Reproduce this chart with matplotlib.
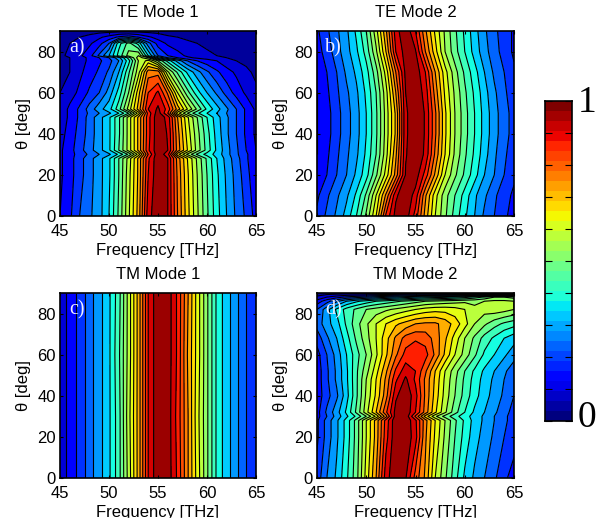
import numpy as np
import matplotlib
matplotlib.use("Agg")
import matplotlib.pyplot as plt
from matplotlib.patches import Rectangle

plt.rcParams['font.family'] = ['Liberation Sans', 'DejaVu Sans']

FREQ = list(range(45, 66))

TE1_THETA = [0, 20, 28, 30, 32, 40, 48, 50, 52, 60, 70, 75.5, 77, 78, 84, 87, 90]
TE1 = [
 [.10,.14,.20,.24,.28,.35,.46,.59,.72,.93,.99,.95,.80,.67,.56,.46,.37,.30,.24,.19,.13],
 [.09,.13,.18,.23,.28,.34,.45,.58,.71,.90,.99,.95,.79,.66,.55,.45,.36,.29,.23,.17,.11],
 [.09,.13,.18,.23,.28,.34,.45,.57,.71,.89,.99,.95,.78,.65,.54,.44,.35,.28,.22,.16,.10],
 [.09,.13,.17,.21,.25,.29,.36,.46,.62,.85,.99,.92,.67,.54,.44,.38,.33,.27,.21,.16,.10],
 [.09,.13,.18,.23,.28,.34,.45,.57,.71,.89,.99,.95,.78,.65,.53,.43,.34,.27,.21,.15,.10],
 [.08,.12,.17,.22,.28,.34,.44,.57,.71,.88,.99,.945,.77,.63,.52,.42,.33,.26,.20,.14,.09],
 [.07,.11,.16,.22,.28,.34,.44,.57,.71,.88,.99,.93,.75,.61,.50,.40,.32,.26,.20,.14,.09],
 [.07,.11,.16,.21,.25,.29,.35,.45,.62,.87,.98,.85,.62,.50,.41,.35,.30,.25,.20,.14,.09],
 [.07,.11,.16,.22,.28,.33,.43,.57,.72,.90,.96,.88,.73,.60,.49,.39,.32,.26,.20,.14,.09],
 [.05,.08,.11,.16,.20,.27,.37,.50,.68,.85,.91,.79,.60,.47,.37,.30,.24,.18,.13,.09,.06],
 [.03,.05,.09,.12,.16,.21,.30,.44,.58,.78,.78,.56,.44,.34,.27,.21,.16,.12,.09,.06,.04],
 [.03,.05,.08,.11,.14,.18,.25,.38,.55,.62,.50,.38,.28,.20,.15,.12,.10,.07,.05,.04,.03],
 [.04,.05,.08,.11,.15,.20,.28,.42,.58,.50,.30,.20,.15,.11,.09,.08,.07,.05,.04,.03,.03],
 [.04,.06,.09,.13,.21,.30,.42,.52,.55,.35,.20,.15,.12,.09,.07,.06,.05,.04,.03,.03,.02],
 [.03,.05,.07,.09,.13,.20,.38,.47,.38,.22,.13,.09,.07,.06,.05,.04,.03,.03,.02,.02,.02],
 [.02,.03,.05,.07,.09,.12,.16,.18,.15,.11,.08,.06,.05,.04,.04,.03,.03,.02,.02,.02,.02],
 [.02,.02,.02,.02,.03,.03,.03,.03,.03,.03,.03,.02,.02,.02,.02,.02,.02,.02,.02,.02,.02],
]

TE2_THETA = [0, 10, 20, 30, 40, 50, 60, 70, 80, 90]
TE2 = [
 [.16,.21,.26,.32,.40,.51,.65,.86,.97,.98,.88,.73,.60,.51,.43,.36,.30,.24,.20,.16,.13],
 [.14,.19,.24,.29,.36,.46,.60,.76,.94,.99,.93,.76,.62,.52,.45,.38,.31,.26,.21,.17,.14],
 [.11,.15,.20,.25,.31,.38,.49,.62,.77,.955,.98,.88,.74,.60,.51,.44,.37,.30,.25,.20,.16],
 [.10,.14,.19,.24,.29,.36,.45,.58,.74,.945,.99,.94,.79,.65,.54,.46,.39,.32,.26,.21,.17],
 [.10,.13,.18,.23,.28,.35,.44,.57,.71,.94,.99,.945,.81,.66,.55,.47,.40,.33,.27,.22,.18],
 [.10,.13,.18,.23,.28,.35,.44,.57,.71,.94,.99,.945,.81,.66,.55,.47,.40,.33,.27,.22,.18],
 [.10,.14,.19,.24,.29,.36,.45,.58,.75,.95,.99,.93,.78,.64,.54,.46,.39,.32,.26,.21,.17],
 [.11,.15,.20,.26,.31,.38,.48,.62,.80,.965,.985,.90,.75,.62,.52,.44,.37,.30,.24,.20,.16],
 [.13,.17,.23,.28,.34,.42,.54,.70,.90,.975,.955,.80,.67,.55,.47,.40,.33,.27,.22,.18,.14],
 [.14,.19,.24,.29,.36,.45,.58,.74,.93,.99,.90,.76,.64,.54,.46,.39,.32,.26,.21,.18,.14],
]

TM1_THETA = [0, 30, 60, 90]
TM1 = [
 [.07,.12,.17,.23,.28,.34,.43,.57,.72,.90,.99,.98,.89,.76,.63,.51,.39,.32,.26,.20,.15],
 [.07,.12,.17,.23,.28,.34,.43,.58,.72,.90,.99,.98,.88,.76,.62,.51,.39,.32,.26,.20,.15],
 [.07,.12,.17,.23,.28,.34,.44,.57,.72,.90,.99,.98,.89,.75,.63,.51,.39,.32,.26,.20,.15],
 [.07,.12,.17,.23,.28,.34,.43,.57,.72,.90,.99,.98,.89,.76,.63,.51,.39,.32,.26,.20,.15],
]

TM2_THETA = [0, 20, 28, 30, 32, 40, 48, 52, 60, 68, 75, 82, 86, 88, 90]
TM2 = [
 [.17,.25,.31,.39,.48,.62,.75,.93,.99,.955,.83,.74,.60,.51,.42,.34,.29,.25,.21,.16,.13],
 [.14,.22,.29,.37,.47,.60,.72,.88,.99,.99,.92,.76,.64,.54,.45,.38,.32,.28,.24,.20,.17],
 [.14,.22,.29,.37,.47,.60,.72,.87,.99,.99,.91,.77,.65,.55,.46,.39,.33,.29,.25,.21,.18],
 [.13,.20,.27,.34,.41,.50,.61,.78,.98,.99,.84,.68,.56,.48,.42,.37,.33,.29,.25,.21,.18],
 [.13,.21,.28,.36,.46,.58,.70,.84,.97,.99,.90,.78,.66,.56,.47,.40,.34,.30,.26,.22,.18],
 [.12,.18,.24,.33,.44,.56,.66,.78,.94,.99,.92,.79,.68,.58,.50,.43,.37,.32,.28,.24,.20],
 [.12,.19,.26,.34,.44,.55,.65,.76,.89,.96,.89,.79,.69,.59,.51,.44,.38,.33,.29,.25,.21],
 [.12,.19,.26,.34,.44,.53,.63,.74,.86,.93,.90,.81,.70,.60,.52,.45,.39,.34,.30,.26,.22],
 [.13,.20,.27,.35,.43,.50,.59,.69,.79,.87,.90,.87,.79,.69,.60,.53,.46,.39,.35,.31,.27],
 [.17,.24,.30,.38,.46,.53,.60,.68,.76,.82,.84,.83,.78,.71,.63,.55,.49,.43,.39,.35,.32],
 [.22,.28,.33,.41,.48,.54,.60,.65,.69,.72,.75,.76,.76,.73,.68,.62,.55,.51,.47,.44,.42],
 [.20,.28,.36,.42,.46,.50,.52,.54,.56,.58,.60,.62,.63,.63,.62,.60,.56,.57,.58,.57,.55],
 [.12,.18,.24,.30,.34,.37,.40,.42,.44,.46,.48,.50,.51,.52,.53,.54,.54,.55,.56,.56,.55],
 [.06,.10,.13,.16,.18,.20,.22,.24,.26,.28,.30,.32,.33,.34,.36,.38,.42,.46,.50,.50,.48],
 [.02,.02,.02,.02,.02,.02,.02,.02,.02,.02,.02,.02,.02,.02,.02,.02,.02,.02,.02,.02,.02],
]

TITLES = ["TE Mode 1", "TE Mode 2", "TM Mode 1", "TM Mode 2"]
TAGS = ["a)", "b)", "c)", "d)"]
XTICKS = [45, 50, 55, 60, 65]
YTICKS = [0, 20, 40, 60, 80]

W, H = 608, 522
fig = plt.figure(figsize=(W / 100, H / 100), dpi=100)


def box(l, t, r, b):
    return [l / W, 1 - b / H, (r - l) / W, (b - t) / H]


boxes = [(60, 31, 256, 216), (317, 31, 514, 216), (60, 293, 256, 478), (317, 293, 514, 478)]
thetas = [TE1_THETA, TE2_THETA, TM1_THETA, TM2_THETA]
fields = [TE1, TE2, TM1, TM2]
levels = np.arange(0, 1.0501, 0.05)

for b, th, z, title, tag in zip(boxes, thetas, fields, TITLES, TAGS):
    ax = fig.add_axes(box(*b))
    ax.contourf(FREQ, th, z, levels=levels, cmap="jet", vmin=0, vmax=1)
    ax.contour(FREQ, th, z, levels=levels, colors="k", linewidths=0.8, linestyles="solid")
    ax.set_xlim(45, 65)
    ax.set_ylim(0, 90)
    ax.set_xticks(XTICKS)
    ax.set_yticks(YTICKS)
    ax.tick_params(direction="in", top=True, right=True, length=2, width=0.8, labelsize=12)
    ax.tick_params(axis="x", pad=5.5)
    ax.tick_params(axis="y", pad=3)
    for s in ax.spines.values():
        s.set_linewidth(1.2)
    ax.set_title(title, fontsize=12, pad=10)
    ax.set_xlabel("Frequency [THz]", fontsize=12, labelpad=3.5)
    ax.set_ylabel("θ [deg]", fontsize=12, labelpad=4.5)
    ax.text(46.7, 82, tag, color="#f0f0ff", fontsize=14.5, family="Liberation Serif",
            ha="center", va="center")

cax = fig.add_axes(box(545, 101, 572, 421))
steps = np.linspace(0, 1, 32).reshape(-1, 1)
cax.imshow(steps, cmap="jet", origin="lower", aspect="auto", extent=[0, 1, 0, 1], vmin=0, vmax=1)
cax.set_xticks([])
cax.set_yticks(np.arange(0, 1.01, 0.1))
cax.set_yticklabels([])
cax.tick_params(direction="in", left=True, right=True, length=5, width=0.8)
for s in cax.spines.values():
    s.set_linewidth(1.2)
fig.text(587 / W, 1 - 103 / H, "1", family="Liberation Serif", fontsize=27, ha="center", va="center")
fig.text(587 / W, 1 - 418 / H, "0", family="Liberation Serif", fontsize=27, ha="center", va="center")

fig.add_artist(Rectangle((0, 0), 1, 4 / H, transform=fig.transFigure, color="white", zorder=10))

fig.savefig("out.png", dpi=100)
